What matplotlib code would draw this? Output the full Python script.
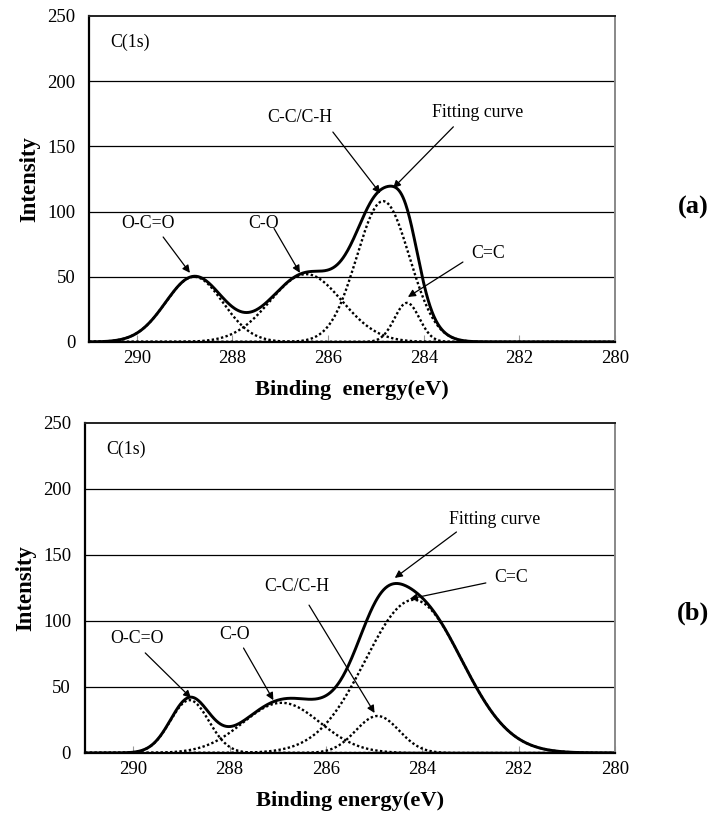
import numpy as np
import matplotlib
matplotlib.use("Agg")
import matplotlib.pyplot as plt

plt.rcParams['font.family'] = ['Liberation Serif', 'DejaVu Serif']

# Peak components (centre eV, height, gaussian sigma eV)
peak_names = ['O-C=O', 'C-O', 'C-C/C-H', 'C=C']
a_center = [288.80, 286.46, 284.85, 284.35]
a_height = [50, 52, 108, 30]
a_sigma = [0.60, 0.75, 0.55, 0.26]

b_center = [288.83, 286.92, 284.93, 284.18]
b_height = [40, 38, 28, 116]
b_sigma = [0.40, 0.80, 0.45, 1.00]

x_ticks = [290, 288, 286, 284, 282, 280]
y_ticks = [0, 50, 100, 150, 200, 250]

# label positions: (text xy, arrow tail, arrow head) in data coords
a_labels = {
    'O-C=O': ((289.77, 90.5), (289.45, 80.5), (288.89, 53)),
    'C-O': ((287.36, 90.5), (287.13, 87.0), (286.59, 53)),
    'C-C/C-H': ((286.59, 172.5), (285.90, 161), (284.91, 114)),
    'Fitting curve': ((282.88, 176), (283.38, 165), (284.64, 118)),
    'C=C': ((282.65, 68), (283.18, 61.3), (284.33, 34.5)),
}
b_labels = {
    'O-C=O': ((289.92, 87), (289.75, 75.8), (288.80, 41.7)),
    'C-O': ((287.90, 89.4), (287.71, 79.5), (287.09, 40)),
    'C-C/C-H': ((286.60, 125.8), (286.35, 112), (284.99, 30.3)),
    'Fitting curve': ((282.50, 176.5), (283.29, 167.4), (284.57, 132.6)),
    'C=C': ((282.16, 133.3), (282.68, 128.8), (284.26, 116.7)),
}


def gauss(x, c, h, s):
    return h * np.exp(-0.5 * ((x - c) / s) ** 2)


def draw_panel(ax, centers, heights, sigmas, labels, xlabel):
    x = np.linspace(291, 280, 800)
    total = np.zeros_like(x)
    for c, h, s in zip(centers, heights, sigmas):
        y = gauss(x, c, h, s)
        total += y
        ax.plot(x, y, color='black', lw=1.7, linestyle=(0, (1, 1)))
    ax.plot(x, total, color='black', lw=2.1)

    ax.set_xlim(291, 280)
    ax.set_ylim(0, 250)
    ax.set_xticks(x_ticks)
    ax.set_yticks(y_ticks)
    for yv in y_ticks[1:-1]:
        ax.axhline(yv, color='black', lw=0.9, zorder=0)
    ax.tick_params(axis='x', direction='in', length=5, color='#999999',
                   labelsize=13.5, pad=6)
    ax.tick_params(axis='y', length=0, labelsize=13.5, pad=10)
    ax.spines['left'].set_linewidth(1.6)
    ax.spines['bottom'].set_linewidth(1.6)
    ax.spines['top'].set_color('#222222')
    ax.spines['top'].set_linewidth(1.4)
    ax.spines['right'].set_color('#888888')
    ax.spines['right'].set_linewidth(1.4)

    ax.set_ylabel('Intensity', fontsize=16.4, fontweight='bold', labelpad=5)
    ax.set_xlabel(xlabel, fontsize=16.2, fontweight='bold', labelpad=9)

    ax.text(290.56, 230, 'C(1s)', fontsize=12.8, ha='left', va='center')
    for name, (txt, tail, head) in labels.items():
        ax.text(txt[0], txt[1], name, fontsize=12.8, ha='center', va='center')
        ax.annotate('', xy=head, xytext=tail,
                    arrowprops=dict(arrowstyle='-|>', color='black', lw=0.9,
                                    mutation_scale=11, shrinkA=0, shrinkB=0))


fig = plt.figure(figsize=(7.18, 8.24), dpi=100)
ax_a = fig.add_axes([0.124, 0.585, 0.7325, 0.3956])
ax_b = fig.add_axes([0.1184, 0.0862, 0.7381, 0.4005])

draw_panel(ax_a, a_center, a_height, a_sigma, a_labels, 'Binding  energy(eV)')
draw_panel(ax_b, b_center, b_height, b_sigma, b_labels, 'Binding energy(eV)')

fig.text(693 / 718, 1 - 207 / 824, '(a)', fontsize=19, fontweight='bold',
         ha='center', va='center')
fig.text(693 / 718, 1 - 613 / 824, '(b)', fontsize=19, fontweight='bold',
         ha='center', va='center')

fig.savefig('out.png', dpi=100)
